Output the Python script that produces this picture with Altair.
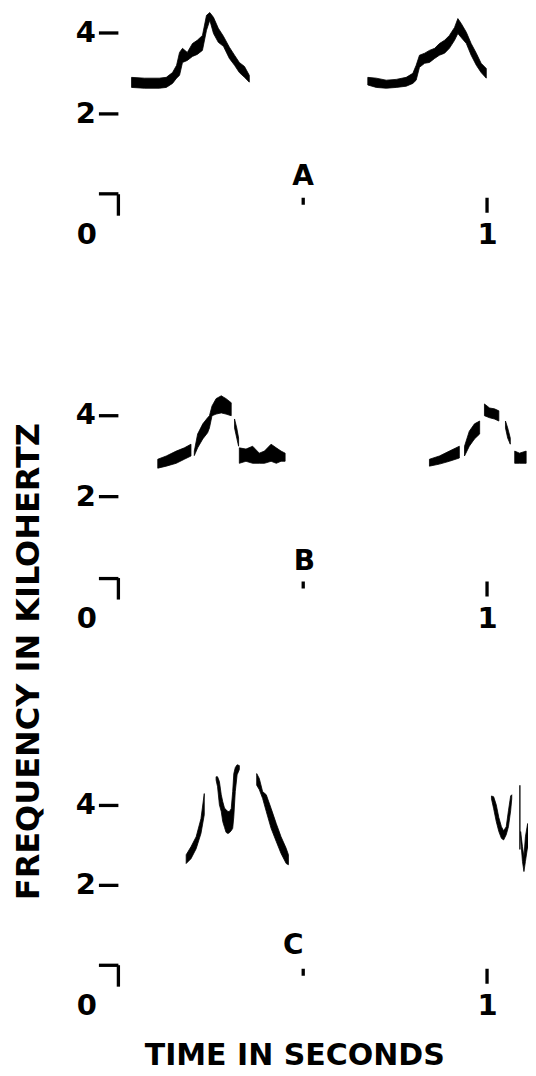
import altair as alt
import pandas as pd

FONT = "DejaVu Sans"

# ---- traces: (time in s, lower edge kHz, upper edge kHz) ----
A1 = [(0.037, 2.64, 2.89), (0.072, 2.62, 2.87), (0.112, 2.62, 2.87), (0.131, 2.64, 2.89),
      (0.148, 2.74, 3.01), (0.159, 2.87, 3.19), (0.167, 2.94, 3.51), (0.175, 3.26, 3.61),
      (0.188, 3.31, 3.51), (0.202, 3.41, 3.73), (0.215, 3.46, 3.81), (0.229, 3.56, 3.93),
      (0.240, 4.06, 4.43), (0.249, 4.31, 4.50), (0.259, 3.98, 4.38), (0.272, 3.76, 4.11),
      (0.286, 3.66, 3.91), (0.302, 3.36, 3.64), (0.316, 3.19, 3.44), (0.329, 3.01, 3.26),
      (0.343, 2.89, 3.16), (0.356, 2.77, 2.94)]
A2 = [(0.677, 2.70, 2.89), (0.700, 2.64, 2.87), (0.727, 2.62, 2.82), (0.754, 2.64, 2.84),
      (0.781, 2.67, 2.89), (0.799, 2.74, 2.99), (0.808, 2.82, 3.19), (0.817, 3.14, 3.44),
      (0.831, 3.24, 3.49), (0.844, 3.26, 3.56), (0.858, 3.36, 3.61), (0.871, 3.44, 3.73),
      (0.885, 3.49, 3.81), (0.898, 3.61, 3.93), (0.912, 3.81, 4.13), (0.921, 3.98, 4.35),
      (0.930, 3.88, 4.23), (0.944, 3.73, 4.01), (0.957, 3.44, 3.73), (0.971, 3.19, 3.49),
      (0.984, 3.01, 3.24), (0.998, 2.87, 3.11)]

B1a = [(0.108, 2.69, 2.91), (0.131, 2.74, 2.99), (0.158, 2.81, 3.11), (0.180, 2.91, 3.19),
       (0.198, 2.99, 3.28)]
B1b = [(0.207, 3.00, 3.11), (0.216, 3.19, 3.53), (0.230, 3.41, 3.78), (0.243, 3.56, 3.93),
       (0.248, 3.68, 3.98), (0.255, 3.98, 4.22), (0.266, 4.02, 4.40), (0.280, 4.05, 4.47),
       (0.293, 4.02, 4.40), (0.307, 3.98, 4.30)]
B1d = [(0.316, 3.68, 3.90), (0.322, 3.43, 3.68), (0.327, 3.23, 3.43)]
B1e = [(0.329, 2.81, 3.19), (0.347, 2.86, 3.16), (0.365, 2.81, 3.23), (0.383, 2.81, 3.06),
       (0.397, 2.81, 3.11), (0.415, 2.86, 3.28), (0.429, 2.81, 3.19), (0.442, 2.86, 3.11),
       (0.453, 2.86, 3.06)]
B2a = [(0.844, 2.74, 2.91), (0.871, 2.79, 2.99), (0.898, 2.86, 3.11), (0.925, 2.94, 3.23)]
B2b = [(0.939, 2.99, 3.23), (0.952, 3.23, 3.60), (0.966, 3.41, 3.78), (0.980, 3.53, 3.85)]
B2c = [(0.993, 3.98, 4.27), (1.007, 3.93, 4.17), (1.020, 3.90, 4.15), (1.032, 3.85, 4.10)]
B2d = [(1.050, 3.68, 3.85), (1.056, 3.43, 3.68), (1.063, 3.28, 3.43)]
B2e = [(1.075, 2.81, 3.11), (1.088, 2.81, 3.06), (1.106, 2.81, 3.11)]

C1a = [(0.185, 2.53, 2.75), (0.198, 2.65, 2.95), (0.212, 2.90, 3.20), (0.225, 3.28, 3.65),
       (0.234, 3.75, 4.28)]
C1b = [(0.266, 4.62, 4.70), (0.270, 4.45, 4.70), (0.275, 4.00, 4.58), (0.280, 3.83, 4.25),
       (0.284, 3.58, 4.08), (0.289, 3.43, 3.91), (0.293, 3.31, 3.88), (0.298, 3.28, 3.83),
       (0.302, 3.30, 3.83), (0.307, 3.35, 3.90), (0.311, 3.41, 4.33), (0.314, 3.70, 4.78),
       (0.318, 4.33, 4.93), (0.323, 4.75, 5.00), (0.329, 4.88, 4.98)]
C1c = [(0.376, 4.49, 4.78), (0.383, 4.38, 4.66), (0.392, 4.16, 4.33), (0.402, 3.83, 4.25),
       (0.415, 3.41, 3.91), (0.429, 3.08, 3.53), (0.442, 2.78, 3.20), (0.456, 2.53, 2.91),
       (0.462, 2.50, 2.75)]
C2a = [(1.012, 4.15, 4.22), (1.018, 3.90, 4.20), (1.025, 3.58, 4.00), (1.032, 3.33, 3.68),
       (1.039, 3.16, 3.45), (1.045, 3.12, 3.35), (1.052, 3.25, 3.45), (1.058, 3.45, 3.85),
       (1.064, 3.85, 4.22), (1.067, 4.15, 4.25)]
C2c = [(1.091, 3.16, 3.33), (1.096, 2.58, 2.95), (1.100, 2.33, 2.70), (1.104, 2.58, 3.20),
       (1.110, 2.95, 3.53), (1.114, 2.83, 3.33), (1.118, 2.38, 2.83), (1.124, 2.53, 2.95),
       (1.130, 2.95, 3.20)]
C2_LINE = [(1.089, 2.88, 4.49)]

PANEL_SEGMENTS = {
    "A": {"A1": A1, "A2": A2},
    "B": {"B1a": B1a, "B1b": B1b, "B1d": B1d, "B1e": B1e,
          "B2a": B2a, "B2b": B2b, "B2c": B2c, "B2d": B2d, "B2e": B2e},
    "C": {"C1a": C1a, "C1b": C1b, "C1c": C1c, "C2a": C2a, "C2c": C2c},
}
PANEL_LINES = {"A": [], "B": [], "C": C2_LINE}

# panel letters: (letter, time, frequency)
LETTERS = {"A": ("A", 0.502, 0.42), "B": ("B", 0.505, 0.39), "C": ("C", 0.475, 0.475)}

X_TICKS = [0, 0.5, 1]
Y_TICKS = [0, 2, 4]
T_MAX = 1.111
F_MAX = {"A": 4.6, "B": 5.0, "C": 5.17}
HEIGHT = {"A": 185.4, "B": 203.5, "C": 206.9}
WIDTH = 410.5


def x_axis(show_title):
    kw = dict(
        values=X_TICKS, domain=False, grid=False,
        tickSize=21.5, tickWidth=3.3, tickColor="black",
        tickDash={"condition": [{"test": "datum.value === 0", "value": [100]},
                                {"test": "datum.value === 0.5", "value": [0, 3.5, 7, 100]}],
                  "value": [0, 3.5, 15, 100]},
        labelExpr="datum.value === 0.5 ? '' : format(datum.value, 'd')",
        labelOffset={"condition": {"test": "datum.value === 0", "value": -31.5}, "value": 0},
        labelFont=FONT, labelFontSize=29, labelFontWeight="bold", labelColor="black",
        labelPadding=19, labelBaseline="middle", labelAlign="center",
        labelFlush=False, labelOverlap=False,
    )
    if show_title:
        kw.update(title="TIME IN SECONDS", titleFont=FONT, titleFontSize=30,
                  titleFontWeight="bold", titleColor="black", titleX=176.5, titleY=100,
                  titleBaseline="alphabetic", titleAlign="center")
    else:
        kw.update(title=None)
    return alt.Axis(**kw)


def y_axis(show_title):
    kw = dict(
        values=Y_TICKS, domain=False, grid=False,
        tickSize=19.5, tickWidth=3.3, tickColor="black",
        labelExpr="datum.value === 0 ? '' : format(datum.value, 'd')",
        labelFont=FONT, labelFontSize=29, labelFontWeight="bold", labelColor="black",
        labelPadding=3, labelBaseline="middle", labelFlush=False, labelOverlap=False,
    )
    if show_title:
        kw.update(title="FREQUENCY IN KILOHERTZ", titleFont=FONT, titleFontSize=32,
                  titleFontWeight="bold", titleColor="black", titleAngle=270,
                  titleX=-89.5, titleY=-97, titleAlign="center", titleBaseline="middle")
    else:
        kw.update(title=None)
    return alt.Axis(**kw)


def panel(key, last):
    rows = []
    for seg, pts in PANEL_SEGMENTS[key].items():
        for t, lo, hi in pts:
            rows.append({"seg": seg, "t": t, "lo": lo, "hi": hi})
    df = pd.DataFrame(rows)

    xenc = alt.X("t:Q", scale=alt.Scale(domain=[0, T_MAX], nice=False, zero=False),
                 axis=x_axis(last))
    yenc = alt.Y("lo:Q", scale=alt.Scale(domain=[0, F_MAX[key]], nice=False, zero=False),
                 axis=y_axis(last))

    area = alt.Chart(df).mark_area(
        color="black", fill="black", stroke="black", strokeWidth=0.8,
        opacity=1, fillOpacity=1, interpolate="linear", clip=True
    ).encode(x=xenc, y=yenc, y2="hi:Q", detail="seg:N")

    letter, lt, lf = LETTERS[key]
    tdf = pd.DataFrame([{"label": letter, "t": lt, "lo": lf}])
    text = alt.Chart(tdf).mark_text(
        font=FONT, fontSize=28, fontWeight="bold", color="black",
        align="center", baseline="middle"
    ).encode(x=xenc, y=yenc, text="label:N")

    layers = [area, text]
    if PANEL_LINES[key]:
        ldf = pd.DataFrame([{"t": t, "lo": lo, "hi": hi} for t, lo, hi in PANEL_LINES[key]])
        rule = alt.Chart(ldf).mark_rule(color="black", strokeWidth=1.3, clip=True).encode(
            x=xenc, y=yenc, y2="hi:Q")
        layers.append(rule)

    return alt.layer(*layers).properties(width=WIDTH, height=HEIGHT[key])


chart = alt.vconcat(
    panel("A", False), panel("B", False), panel("C", True),
    spacing=180.1, bounds="flush"
).properties(
    padding={"left": 4, "top": 0, "right": 0, "bottom": 0}, background="white"
).configure_view(stroke=None)

chart.save("out.html", embed_options={"renderer": "svg", "actions": False})
